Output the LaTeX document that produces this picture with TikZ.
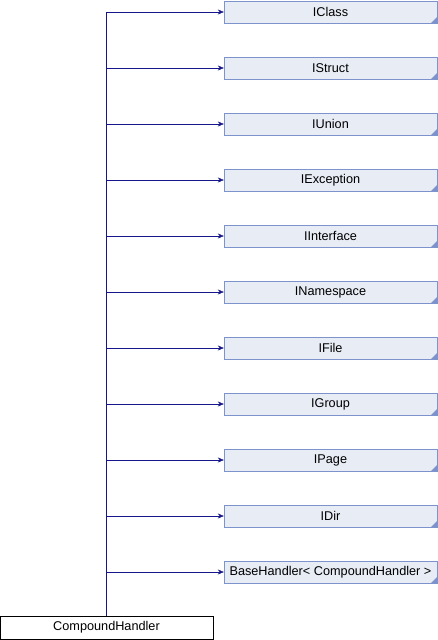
\documentclass[tikz,border=0pt]{standalone}
\usepackage{fontspec}
\setmainfont{Liberation Sans}
\usetikzlibrary{arrows.meta}
\definecolor{boxfill}{HTML}{E8ECF5}
\definecolor{boxline}{HTML}{7D93CB}
\definecolor{edgeblue}{HTML}{16168A}
\begin{document}
\begin{tikzpicture}[x=1pt,y=-1pt,font=\fontsize{12.7}{14}\selectfont]
		\tikzstyle{every node}+=[inner sep=0pt]
		\tikzstyle{cls}=[draw=boxline, fill=boxfill, minimum width=213pt, minimum height=22pt,
			path picture={\fill[boxline] (path picture bounding box.south east) -- ++(-6pt,0pt) -- ++(6pt,6pt) -- cycle;}]
		\tikzstyle{self}=[draw=black, fill=white, minimum width=213pt, minimum height=23pt]
		\tikzstyle{inherit}=[draw=edgeblue, -{Stealth[length=6pt,width=5pt]}]
		\useasboundingbox (0,0) rectangle (438,640);
		\node [cls] (iclass) at (330.5,12) {IClass};
		\node [cls] (istruct) at (330.5,68) {IStruct};
		\node [cls] (iunion) at (330.5,124) {IUnion};
		\node [cls] (iexception) at (330.5,180) {IException};
		\node [cls] (iinterface) at (330.5,236) {IInterface};
		\node [cls] (inamespace) at (330.5,292) {INamespace};
		\node [cls] (ifile) at (330.5,348) {IFile};
		\node [cls] (igroup) at (330.5,404) {IGroup};
		\node [cls] (ipage) at (330.5,460) {IPage};
		\node [cls] (idir) at (330.5,516) {IDir};
		\node [cls] (basehandler) at (330.5,572) {BaseHandler< CompoundHandler >};
		\node [self] (compound) at (106.5,627.5) {CompoundHandler};
		% inheritance edges
		\draw [inherit] (compound.north) |- (iclass.west);
		\draw [inherit] (compound.north) |- (istruct.west);
		\draw [inherit] (compound.north) |- (iunion.west);
		\draw [inherit] (compound.north) |- (iexception.west);
		\draw [inherit] (compound.north) |- (iinterface.west);
		\draw [inherit] (compound.north) |- (inamespace.west);
		\draw [inherit] (compound.north) |- (ifile.west);
		\draw [inherit] (compound.north) |- (igroup.west);
		\draw [inherit] (compound.north) |- (ipage.west);
		\draw [inherit] (compound.north) |- (idir.west);
		\draw [inherit] (compound.north) |- (basehandler.west);
\end{tikzpicture}
\end{document}
